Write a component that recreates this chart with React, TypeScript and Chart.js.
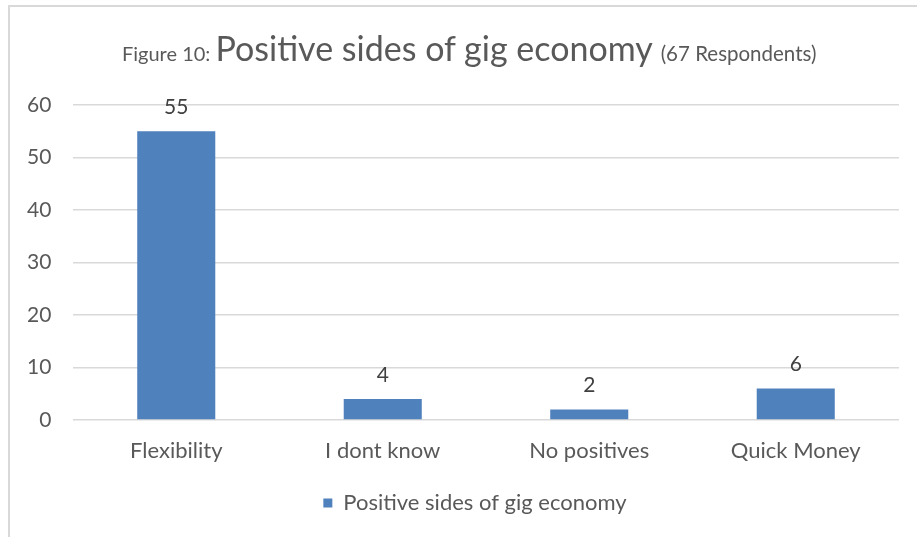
import { useEffect, useRef } from "react";
import { Chart, registerables } from "chart.js";

Chart.register(...registerables);

// Survey answers: positive sides of the gig economy (67 respondents)
const categories = ["Flexibility", "I dont know", "No positives", "Quick Money"];
const respondents = [55, 4, 2, 6];
const seriesName = "Positive sides of gig economy";
const yTickValues = [0, 10, 20, 30, 40, 50, 60];

const FONT = "Lato, 'Open Sans', sans-serif";
const TEXT = "#595959";
const BAR = "#4F81BD";
const GRID = "#D9D9D9";

// Draws each bar's value above it
const valueLabels = {
  id: "valueLabels",
  afterDatasetsDraw(chart: any) {
    const { ctx } = chart;
    const meta = chart.getDatasetMeta(0);
    ctx.save();
    ctx.font = `21px ${FONT}`;
    ctx.fillStyle = "#404040";
    ctx.textAlign = "center";
    ctx.textBaseline = "middle";
    meta.data.forEach((bar: any, i: number) => {
      ctx.fillText(String(respondents[i]), bar.x, bar.y - 24);
    });
    ctx.restore();
  },
};

export default function App() {
  const canvasRef = useRef<HTMLCanvasElement | null>(null);

  useEffect(() => {
    if (!canvasRef.current) return;
    const chart = new Chart(canvasRef.current, {
      type: "bar",
      data: {
        labels: categories,
        datasets: [
          {
            label: seriesName,
            data: respondents,
            backgroundColor: BAR,
            borderWidth: 0,
            barPercentage: 0.378,
            categoryPercentage: 1,
          },
        ],
      },
      options: {
        animation: false,
        responsive: false,
        devicePixelRatio: 1,
        layout: { padding: { top: 105, bottom: 13, left: 51, right: 18 } },
        plugins: {
          title: { display: false },
          tooltip: { enabled: false },
          legend: {
            display: true,
            position: "bottom",
            labels: {
              boxWidth: 9,
              boxHeight: 9,
              padding: 10,
              color: TEXT,
              font: { family: FONT, size: 22 },
            },
          },
        },
        scales: {
          x: {
            grid: { display: false },
            border: { display: false },
            ticks: {
              color: TEXT,
              font: { family: FONT, size: 22 },
              padding: 10,
            },
            afterFit(scale: any) {
              scale.height = 62;
            },
          },
          y: {
            min: 0,
            max: 60,
            afterBuildTicks(scale: any) {
              scale.ticks = yTickValues.map((v) => ({ value: v }));
            },
            grid: { color: GRID, lineWidth: 1.5, drawTicks: false },
            border: { display: false },
            // labels are right-aligned a little left of the plot edge
            ticks: {
              color: TEXT,
              font: { family: FONT, size: 21 },
              mirror: true,
              crossAlign: "far",
              padding: -46,
            },
            afterFit(scale: any) {
              scale.width = 22;
            },
          },
        },
      },
      plugins: [valueLabels],
    });
    return () => chart.destroy();
  }, []);

  return (
    <div
      style={{
        position: "absolute",
        left: 0,
        top: 0,
        width: 917,
        height: 537,
        overflow: "hidden",
        background: "#fff",
      }}
    >
      <div
        style={{
          position: "absolute",
          left: 8,
          top: 5,
          width: 940,
          height: 560,
          border: `2px solid ${GRID}`,
          boxSizing: "border-box",
        }}
      />
      <canvas
        ref={canvasRef}
        width={917}
        height={537}
        style={{ position: "absolute", left: 0, top: 0 }}
      />
      <div
        style={{
          position: "absolute",
          left: 122,
          top: 31,
          whiteSpace: "nowrap",
          fontFamily: FONT,
          color: TEXT,
          lineHeight: 1,
        }}
      >
        <span style={{ fontSize: 20 }}>Figure 10: </span>
        <span style={{ fontSize: 34 }}>Positive sides of gig economy </span>
        <span style={{ fontSize: 20.5 }}>(67 Respondents)</span>
      </div>
    </div>
  );
}
